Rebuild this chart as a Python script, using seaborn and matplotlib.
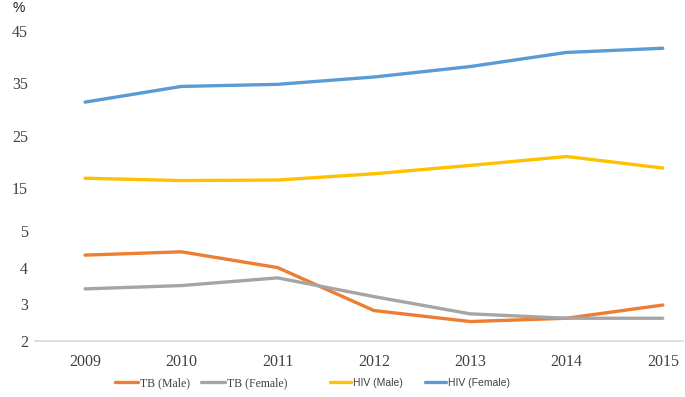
import numpy as np
import pandas as pd
import matplotlib
matplotlib.use("Agg")
import matplotlib.pyplot as plt
import seaborn as sns

# data
years = [2009, 2010, 2011, 2012, 2013, 2014, 2015]
tb_male = [4.34, 4.43, 4.0, 2.83, 2.53, 2.62, 2.98]
tb_female = [3.42, 3.51, 3.72, 3.21, 2.74, 2.62, 2.62]
hiv_male = [16.85, 16.4, 16.5, 17.7, 19.3, 21.0, 18.8]
hiv_female = [31.4, 34.4, 34.8, 36.2, 38.2, 40.9, 41.7]
series_names = ["TB (Male)", "TB (Female)", "HIV (Male)", "HIV (Female)"]
yticks = [2, 3, 4, 5, 15, 25, 35, 45]

df = pd.DataFrame({
    "Year": years * 4,
    "Value": tb_male + tb_female + hiv_male + hiv_female,
    "Series": sum([[s] * len(years) for s in series_names], []),
})

pal = {"TB (Male)": "#ED7D31", "TB (Female)": "#A5A5A5",
       "HIV (Male)": "#FFC000", "HIV (Female)": "#5B9BD5"}

# broken axis: 2-5 stretched, 15-45 compressed
k = 43 / 36.7
s = 5.23 / 36.7

def fwd(y):
    y = np.asarray(y, dtype=float)
    return np.where(y <= 5, y - 2,
                    np.where(y <= 15, 3 + (y - 5) / 10 * k,
                             3 + k + (y - 15) * s))

def inv(t):
    t = np.asarray(t, dtype=float)
    return np.where(t <= 3, t + 2,
                    np.where(t <= 3 + k, 5 + (t - 3) / k * 10,
                             15 + (t - 3 - k) / s))

sns.set_theme(style="white")
plt.rcParams["font.family"] = ["Liberation Serif", "DejaVu Serif"]

fig = plt.figure(figsize=(6.85, 3.97), dpi=100)
ax = fig.add_axes([35 / 685, 1 - 341 / 397, 648 / 685, 321 / 397])

sns.lineplot(data=df, x="Year", y="Value", hue="Series", hue_order=series_names,
             palette=pal, linewidth=2.4, ax=ax)

ax.set_yscale("function", functions=(fwd, inv))
ax.set_ylim(2, 47.1)
ax.set_xlim(2008.48, 2015.21)
ax.set_yticks(yticks)
ax.set_yticklabels([str(v) for v in yticks])
ax.set_xticks(years)
ax.set_xticklabels([str(v) for v in years])
ax.tick_params(axis="both", length=0, labelsize=11.5, colors="#404040")
ax.tick_params(axis="x", pad=9)
ax.tick_params(axis="y", pad=5)
ax.set_xlabel("")
ax.set_ylabel("")
ax.grid(False)
for side in ["top", "left", "right"]:
    ax.spines[side].set_visible(False)
ax.spines["bottom"].set_color("#d9d9d9")
ax.spines["bottom"].set_linewidth(1.2)

fig.text(12 / 685, 1 - 8 / 397, "%", fontsize=10, family="Liberation Sans",
         ha="left", va="center", color="#202020")

handles, labels = ax.get_legend_handles_labels()
ax.get_legend().remove()

leg1 = fig.legend(handles[:2], labels[:2], ncol=2, frameon=False,
                  loc="center", bbox_to_anchor=(201 / 685, 1 - 383 / 397),
                  fontsize=8.5, handlelength=2.0, handletextpad=0.2,
                  columnspacing=0.9, prop={"family": "Liberation Serif", "size": 8.5})
leg2 = fig.legend(handles[2:], labels[2:], ncol=2, frameon=False,
                  loc="center", bbox_to_anchor=(420 / 685, 1 - 383 / 397),
                  handlelength=2.0, handletextpad=0.2,
                  columnspacing=2.2, prop={"family": "Liberation Sans", "size": 7.5})
for leg in (leg1, leg2):
    for t in leg.get_texts():
        t.set_color("#404040")

fig.savefig("out.png", dpi=100)
